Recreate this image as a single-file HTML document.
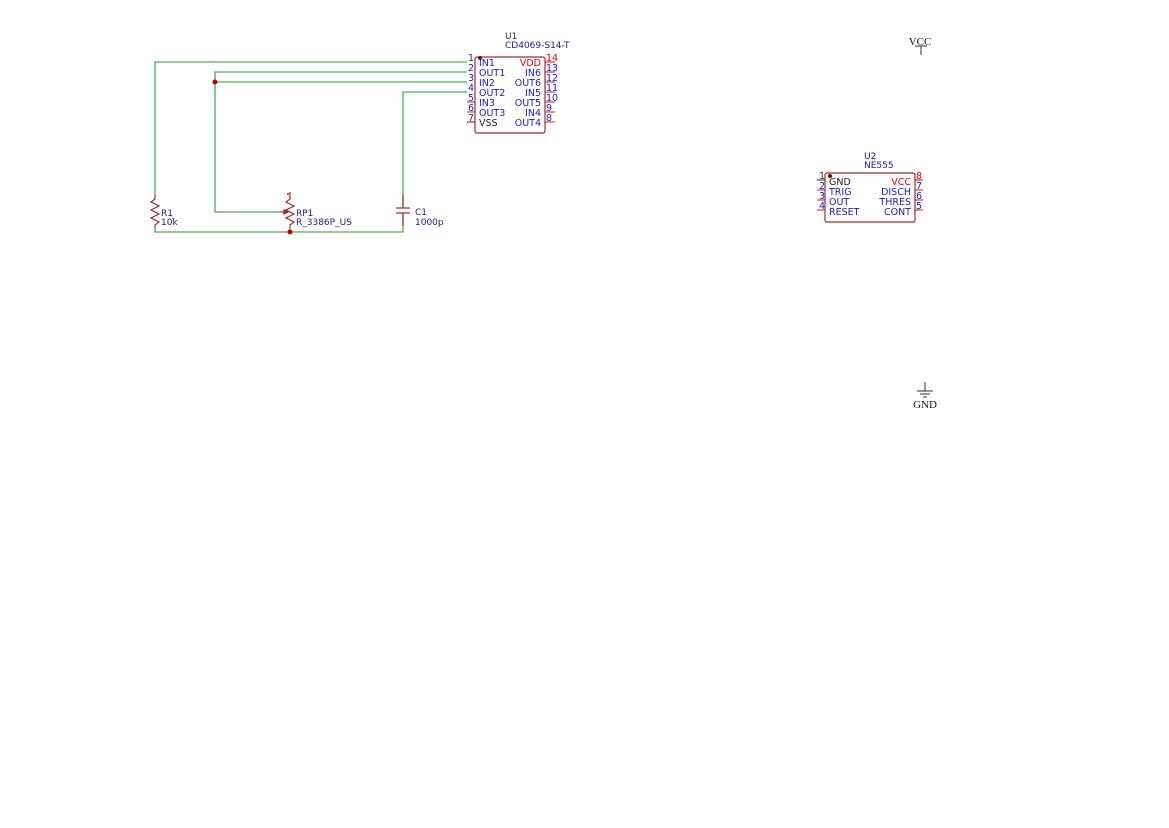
<!DOCTYPE html>
<html><head><meta charset="utf-8"><style>body{margin:0;background:#fff}svg{display:block}</style></head><body>
<svg width="1169" height="828" viewBox="0 0 1169 828" xmlns="http://www.w3.org/2000/svg" font-family="DejaVu Sans, sans-serif">
<g stroke="#4caf50" stroke-width="1.3" fill="none">
<polyline points="467,62 155,62 155,195"/>
<polyline points="467,72 215,72 215,212 280,212"/>
<line x1="215" y1="82" x2="467" y2="82"/>
<polyline points="467,92 403,92 403,208"/>
<polyline points="155,228 155,232 403,232 403,214"/>
<line x1="290" y1="228" x2="290" y2="232"/>
</g>
<g fill="#c00000"><circle cx="215" cy="82" r="2.5"/><circle cx="290" cy="232" r="2.5"/></g>
<g stroke="#a52a2a" stroke-width="1.2" fill="none">
<polyline points="155,195 155,199 151,202 159,206 151,210 159,214 151,218 159,222 155,225 155,228"/>
<polyline points="290,192 290,199 286,202 294,206 286,210 294,214 286,218 294,222 290,225 290,228"/>
<line x1="280" y1="212" x2="284" y2="212"/>
<polygon points="284,210 288,212 284,214" fill="#a52a2a"/>
<line x1="396" y1="208" x2="410" y2="208"/><line x1="396" y1="213" x2="410" y2="213"/>
<line x1="403" y1="195" x2="403" y2="208"/><line x1="403" y1="213" x2="403" y2="226"/>
</g>
<circle cx="288" cy="194" r="1" fill="#a52a2a"/>
<g fill="#1a1a8c" font-size="9">
<text x="161" y="216">R1</text><text x="161" y="225">10k</text>
<text x="296" y="216">RP1</text><text x="296" y="225">R_3386P_US</text>
<text x="415" y="215">C1</text><text x="415" y="225">1000p</text>
<text x="505" y="39">U1</text><text x="505" y="48">CD4069-S14-T</text>
<text x="864" y="159">U2</text><text x="864" y="168">NE555</text>
</g>
<rect x="475" y="57" width="70" height="76" rx="2" fill="#fff" stroke="#a52a2a" stroke-width="1.2"/>
<circle cx="480" cy="58" r="2" fill="#8b0000"/>
<g stroke="#a52a2a" stroke-width="1">
<line x1="467" y1="102" x2="475" y2="102"/><line x1="467" y1="112" x2="475" y2="112"/>
<line x1="545" y1="62" x2="555" y2="62" stroke="#e00"/>
<line x1="545" y1="72" x2="555" y2="72"/><line x1="545" y1="82" x2="555" y2="82"/><line x1="545" y1="92" x2="555" y2="92"/><line x1="545" y1="102" x2="555" y2="102"/><line x1="545" y1="112" x2="555" y2="112"/><line x1="545" y1="122" x2="555" y2="122"/>
</g>
<line x1="467" y1="122" x2="475" y2="122" stroke="#333"/>
<g font-size="9.5" fill="#1a1acc">
<text x="468" y="61">1</text><text x="468" y="71">2</text><text x="468" y="81">3</text><text x="468" y="91">4</text><text x="468" y="101">5</text><text x="468" y="111">6</text><text x="468" y="121" fill="#333">7</text>
<text x="546" y="61" fill="#e00">14</text><text x="546" y="71">13</text><text x="546" y="81">12</text><text x="546" y="91">11</text><text x="546" y="101">10</text><text x="546" y="111">9</text><text x="546" y="121">8</text>
<text x="479" y="66">IN1</text><text x="479" y="76">OUT1</text><text x="479" y="86">IN2</text><text x="479" y="96">OUT2</text><text x="479" y="106">IN3</text><text x="479" y="116">OUT3</text><text x="479" y="126" fill="#222">VSS</text>
<g text-anchor="end"><text x="541" y="66" fill="#e00">VDD</text><text x="541" y="76">IN6</text><text x="541" y="86">OUT6</text><text x="541" y="96">IN5</text><text x="541" y="106">OUT5</text><text x="541" y="116">IN4</text><text x="541" y="126">OUT4</text></g>
</g>
<rect x="825" y="173" width="90" height="49" rx="2" fill="#fff" stroke="#a52a2a" stroke-width="1.2"/>
<circle cx="830" cy="176" r="2" fill="#8b0000"/>
<g stroke="#a52a2a" stroke-width="1">
<line x1="817" y1="190" x2="825" y2="190"/><line x1="817" y1="200" x2="825" y2="200"/><line x1="817" y1="210" x2="825" y2="210"/>
<line x1="915" y1="180" x2="923" y2="180" stroke="#e00"/><line x1="915" y1="190" x2="923" y2="190"/><line x1="915" y1="200" x2="923" y2="200"/><line x1="915" y1="210" x2="923" y2="210"/>
</g>
<line x1="817" y1="180" x2="825" y2="180" stroke="#333"/>
<g font-size="9.5" fill="#1a1acc">
<text x="819" y="179" fill="#333">1</text><text x="819" y="189">2</text><text x="819" y="199">3</text><text x="819" y="209">4</text>
<text x="916" y="179" fill="#e00">8</text><text x="916" y="189">7</text><text x="916" y="199">6</text><text x="916" y="209">5</text>
<text x="829" y="185" fill="#222">GND</text><text x="829" y="195">TRIG</text><text x="829" y="205">OUT</text><text x="829" y="215">RESET</text>
<g text-anchor="end"><text x="911" y="185" fill="#e00">VCC</text><text x="911" y="195">DISCH</text><text x="911" y="205">THRES</text><text x="911" y="215">CONT</text></g>
</g>
<g stroke="#333" stroke-width="1">
<line x1="915" y1="46" x2="927" y2="46"/><line x1="921" y1="46" x2="921" y2="55"/>
<line x1="925" y1="382" x2="925" y2="391"/><line x1="917" y1="391" x2="933" y2="391"/><line x1="920" y1="394" x2="930" y2="394"/><line x1="923" y1="397" x2="927" y2="397"/>
</g>
<g font-family="Liberation Serif, serif" font-size="11" fill="#111" text-anchor="middle">
<text x="920" y="45">VCC</text><text x="925" y="408">GND</text>
</g>
</svg>
</body></html>
